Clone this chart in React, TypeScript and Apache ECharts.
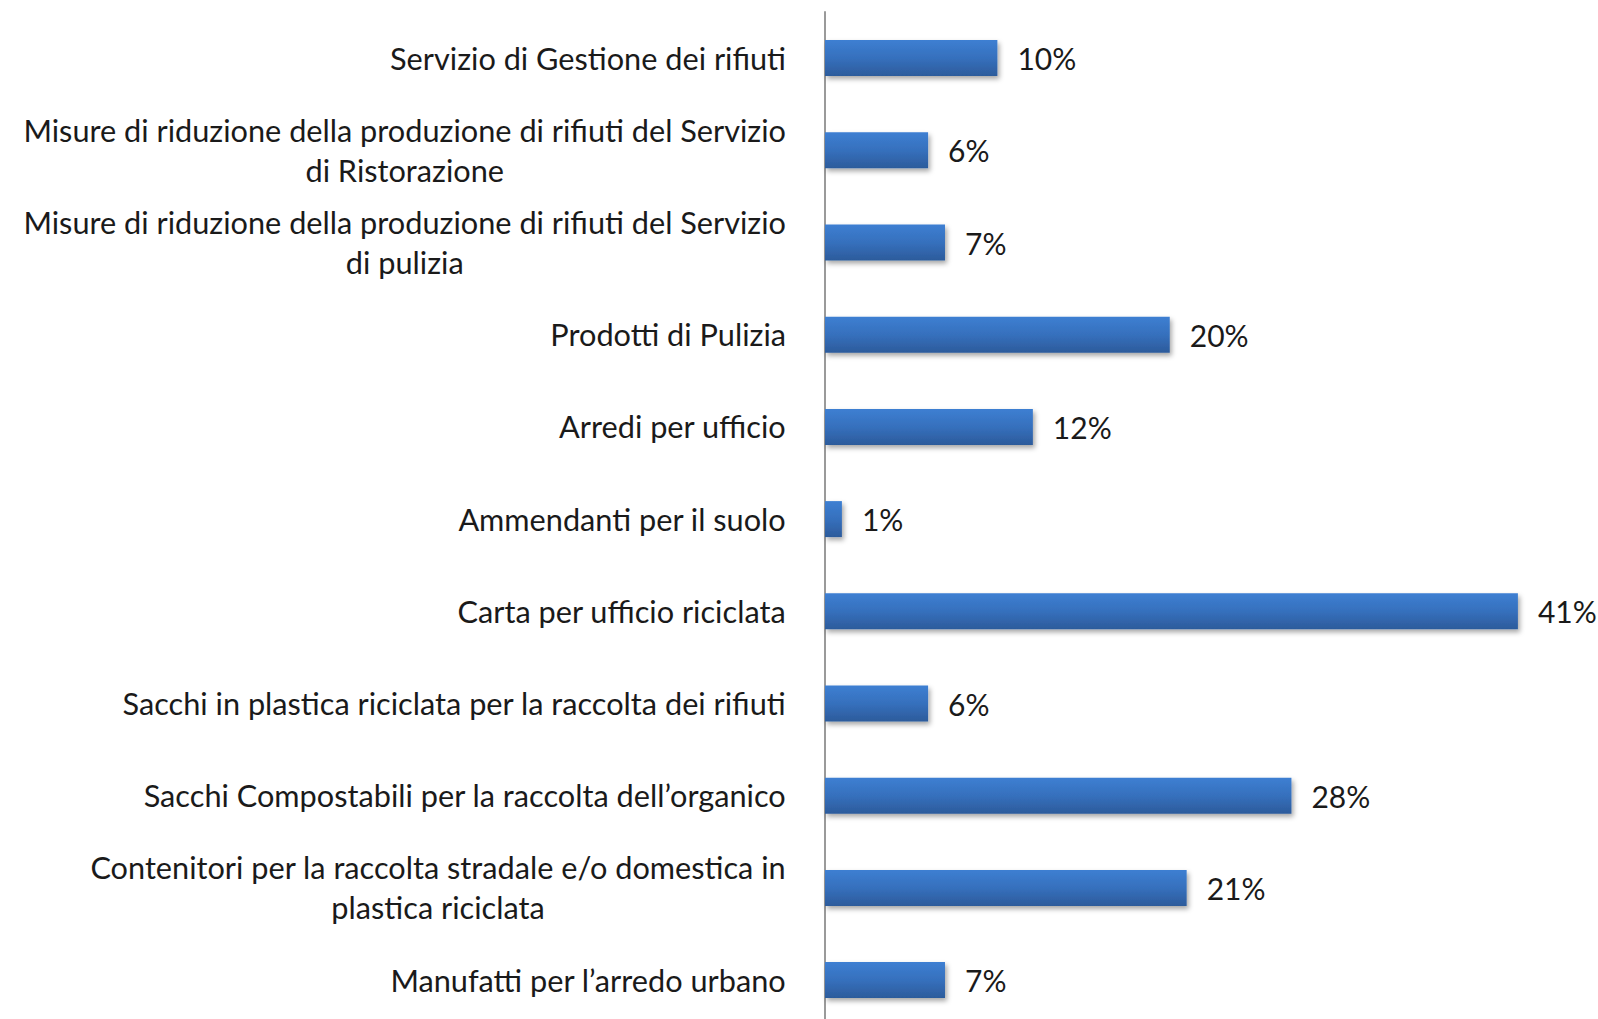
import React, { useEffect, useRef } from "react";
import * as echarts from "echarts";

const categories: string[] = [
  "Servizio di Gestione dei rifiuti",
  "Misure di riduzione della produzione di rifiuti del Servizio\ndi Ristorazione",
  "Misure di riduzione della produzione di rifiuti del Servizio\ndi pulizia",
  "Prodotti di Pulizia",
  "Arredi per ufficio",
  "Ammendanti per il suolo",
  "Carta per ufficio riciclata",
  "Sacchi in plastica riciclata per la raccolta dei rifiuti",
  "Sacchi Compostabili per la raccolta dell\u2019organico",
  "Contenitori per la raccolta stradale e/o domestica in\nplastica riciclata",
  "Manufatti per l\u2019arredo urbano",
];

const values: number[] = [10.2, 6.1, 7.1, 20.4, 12.3, 1.0, 41.0, 6.1, 27.6, 21.4, 7.1];

const FONT = "Lato";

export default function App() {
  const ref = useRef<HTMLDivElement>(null);
  useEffect(() => {
    document.body.style.margin = "0";
    if (!ref.current) return;
    const chart = echarts.init(ref.current, undefined, { renderer: "svg" });
    chart.setOption({
      animation: false,
      backgroundColor: "#ffffff",
      grid: { left: 825, top: 12, width: 45 * 16.9, height: 11 * 92.2 },
      xAxis: {
        type: "value",
        min: 0,
        max: 45,
        show: false,
        splitLine: { show: false },
      },
      yAxis: {
        type: "category",
        inverse: true,
        data: categories,
        axisLine: { show: true, lineStyle: { color: "#9a9a9a", width: 2 } },
        axisTick: { show: false },
        axisLabel: {
          margin: 39,
          formatter: (v: string) =>
            v
              .split("\n")
              .map((l) => "{c|" + l + "}")
              .join("\n"),
          rich: {
            c: {
              align: "center",
              fontFamily: FONT,
              fontSize: 30.7,
              color: "#1a1a1a",
              lineHeight: 40,
            },
          },
        },
      },
      series: [
        {
          type: "bar",
          data: values,
          barWidth: 36,
          itemStyle: {
            color: new echarts.graphic.LinearGradient(0, 0, 0, 1, [
              { offset: 0, color: "#3d7fd2" },
              { offset: 0.5, color: "#3670bd" },
              { offset: 1, color: "#2c5b9b" },
            ]),
            shadowColor: "rgba(0,0,0,0.35)",
            shadowBlur: 5,
            shadowOffsetX: 2,
            shadowOffsetY: 3,
          },
          label: {
            show: true,
            position: "right",
            distance: 20,
            formatter: (p: any) => Math.round(p.value) + "%",
            fontFamily: FONT,
            fontSize: 30,
            color: "#1a1a1a",
          },
        },
      ],
    });
    return () => chart.dispose();
  }, []);
  return (
    <div style={{ width: 1598, height: 1019, overflow: "hidden" }}>
      <div ref={ref} style={{ width: 1598, height: 1030 }} />
    </div>
  );
}
